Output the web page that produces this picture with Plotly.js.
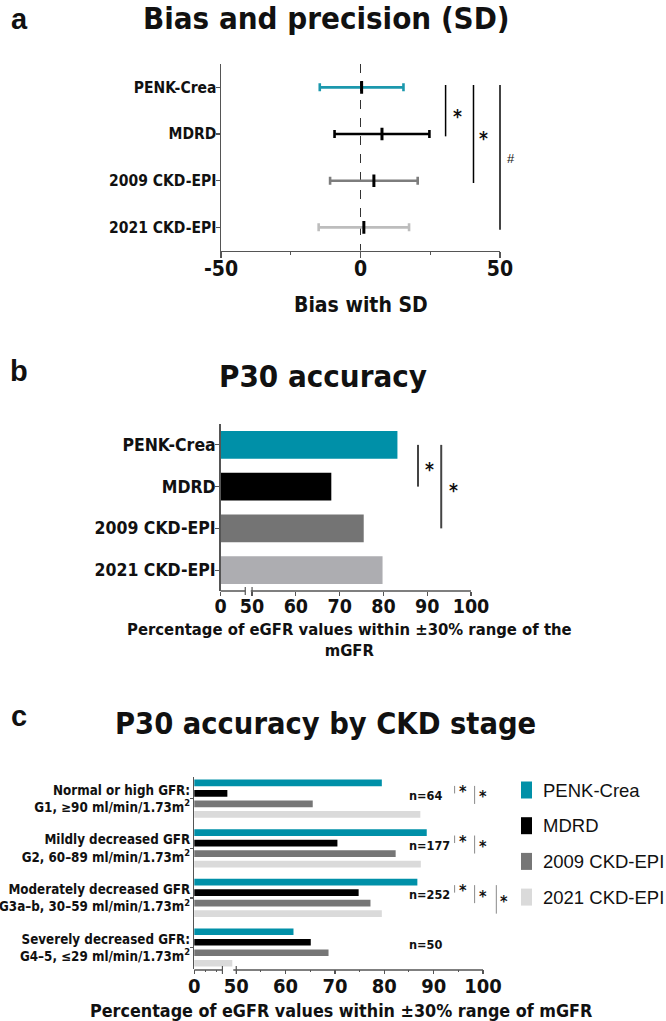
<!DOCTYPE html>
<html><head><meta charset="utf-8">
<script src="https://cdn.plot.ly/plotly-3.0.1.min.js"></script>
<style>html,body{margin:0;padding:0;background:#fff;} #chart{width:666px;height:1021px;}</style>
</head><body><div id="chart"></div>
<script>
// ---------- DATA ----------
const methods = ['PENK-Crea', 'MDRD', '2009 CKD-EPI', '2021 CKD-EPI'];
const biasMean = [0.4, 7.7, 4.8, 1.2];
const biasSD = [15.0, 17.0, 15.7, 16.2];
const biasTickVals = [-50, 0, 50];
const biasTickText = ['-50', '0', '50'];

const p30 = [83.2, 68.1, 75.5, 79.8];

const stages = [
  'Normal or high GFR:<br>G1, ≥90 ml/min/1.73m<sup>2</sup>',
  'Mildly decreased GFR<br>G2, 60–89 ml/min/1.73m<sup>2</sup>',
  'Moderately decreased GFR<br>G3a–b, 30–59 ml/min/1.73m<sup>2</sup>',
  'Severely decreased GFR:<br>G4–5, ≤29 ml/min/1.73m<sup>2</sup>'
];
const stageN = ['n=64', 'n=177', 'n=252', 'n=50'];
const p30PenkCrea = [79.5, 88.6, 86.7, 61.6];
const p30Mdrd = [48.2, 70.5, 74.8, 65.1];
const p30Ckd2009 = [65.5, 82.3, 77.2, 68.7];
const p30Ckd2021 = [87.3, 87.4, 79.5, 49.2];
const pctTickVals = [50, 60, 70, 80, 90, 100];
const pctTickText = ['50', '60', '70', '80', '90', '100'];

// ---------- STYLE ----------
const W = 666, H = 1021;
const FN = '"DejaVu Sans Condensed", "Liberation Sans Narrow", sans-serif';
const FA = '"Liberation Sans", Arial, sans-serif';
const INK = '#111111';
const AX = '#555555';
const colA = ['#1b98ad', '#000000', '#7d7d7d', '#bdbdbd'];
const colB = ['#0090a8', '#000000', '#747474', '#adadb1'];
const colC = ['#0090a8', '#000000', '#767676', '#dadada'];

const px2x = p => p / W;
const px2y = p => 1 - p / H;

// axis geometry (domains in paper units)
const axA = {dom: [px2x(221), px2x(500)], rng: [-50, 50]};
const ayA = {dom: [px2y(250.7), px2y(64)], rng: [3.5, -0.5]};
const zeroB = 42.84;   // where the "0" of the broken axis sits
const axB = {dom: [px2x(220.7), px2x(471)], rng: [zeroB, 100]};
const ayB = {dom: [px2y(591), px2y(424)], rng: [3.5, -0.5]};
const zeroC = 41.5;
const axC = {dom: [px2x(194.3), px2x(483)], rng: [zeroC, 100]};
const ayC = {dom: [px2y(968.7), px2y(776.7)], rng: [3.4275, -0.4435]};

function mx(a, v) { return a.dom[0] + (v - a.rng[0]) / (a.rng[1] - a.rng[0]) * (a.dom[1] - a.dom[0]); }
function my(a, v) { return a.dom[0] + (v - a.rng[0]) / (a.rng[1] - a.rng[0]) * (a.dom[1] - a.dom[0]); }

const traces = [];
// ----- panel a -----
methods.forEach((m, i) => {
  traces.push({
    type: 'scatter', mode: 'markers', xaxis: 'x', yaxis: 'y',
    x: [biasMean[i]], y: [i], name: m, showlegend: false,
    error_x: {type: 'data', array: [biasSD[i]], color: colA[i], thickness: 2.6, width: 4},
    marker: {symbol: 'line-ns', size: 9, color: '#000', line: {color: '#000', width: 3}},
    hoverinfo: 'skip'
  });
});
// ----- panel b -----
traces.push({
  type: 'bar', orientation: 'h', xaxis: 'x2', yaxis: 'y2',
  x: p30, y: methods.map((m, i) => i), width: 0.667,
  marker: {color: colB, line: {width: 0}}, showlegend: false, hoverinfo: 'skip'
});
// ----- panel c -----
const seriesC = [p30PenkCrea, p30Mdrd, p30Ckd2009, p30Ckd2021];
seriesC.forEach((vals, k) => {
  traces.push({
    type: 'bar', orientation: 'h', xaxis: 'x3', yaxis: 'y3',
    x: vals, y: stages.map((s, i) => i), name: methods[k],
    marker: {color: colC[k], line: {width: 0}}, showlegend: false, hoverinfo: 'skip'
  });
});

const shapes = [];
const ann = [];
function lineP(x0, y0, x1, y1, color, width, dash) {
  shapes.push({type: 'line', xref: 'paper', yref: 'paper', x0, y0, x1, y1,
    line: {color, width, dash: dash || 'solid'}});
}
function txt(x, y, text, size, opts) {
  ann.push(Object.assign({xref: 'paper', yref: 'paper', x, y, text, showarrow: false,
    xanchor: 'center', yanchor: 'middle',
    font: {family: FN, size, color: INK, weight: 'bold'}}, opts || {}));
}

// panel a: dashed zero line
shapes.push({type: 'line', xref: 'x', yref: 'y', x0: 0, x1: 0, y0: -0.5, y1: 3.5, layer: 'below',
  line: {color: '#333', width: 1, dash: 'dash'}});
// panel a: significance brackets
const sigA = [[1, 30.5, '*', 34.8, '#000', 1.5], [2, 40.5, '*', 44.2, '#000', 1.5], [3, 50, '#', 54, '#444', 2]];
sigA.forEach(([to, xv, lab, xl, c, w]) => {
  const y0 = my(ayA, -0.05), y1 = my(ayA, to + 0.05);
  lineP(mx(axA, xv), y0, mx(axA, xv), y1, c, w);
  const ym = to === 1 ? px2y(116) : (to === 2 ? px2y(138) : px2y(158));
  if (lab === '#') txt(mx(axA, xl), ym, '#', 13, {font: {family: FA, size: 13, color: INK}});
  else txt(mx(axA, xl), ym, '*', 19);
});

// panel b: broken x axis line
const byb = px2y(591);
lineP(mx(axB, zeroB), byb, mx(axB, 48.45), byb, AX, 1.5);
lineP(mx(axB, 49.7), byb, mx(axB, 100), byb, AX, 1.5);
[48.45, 50].forEach(v => lineP(mx(axB, v), byb + 4 / H, mx(axB, v), byb - 4 / H, AX, 1.2));
// panel b significance
const sigB = [[1, 87.9, 90.5], [2, 93.2, 96.0]];
sigB.forEach(([to, xv, xs]) => {
  lineP(mx(axB, xv), my(ayB, 0), mx(axB, xv), my(ayB, to), '#444', 2);
  txt(mx(axB, xs), (my(ayB, 0) + my(ayB, to)) / 2 - 3 / H, '*', 19);
});

// panel c: broken x axis line
const byc = px2y(970);
lineP(mx(axC, zeroC), byc, mx(axC, 47.2), byc, AX, 1.5);
lineP(mx(axC, 49.4), byc, mx(axC, 100), byc, AX, 1.5);
[47.2, 50].forEach(v => lineP(mx(axC, v), byc + 4 / H, mx(axC, v), byc - 4 / H, AX, 1.2));

// panel c: n labels
const slot = (1 - 0.153) / 4;
stageN.forEach((t, g) => {
  ann.push({xref: 'x3', yref: 'y3', x: 84.6, y: g, text: t, showarrow: false,
    xanchor: 'left', yanchor: 'middle', yshift: 3,
    font: {family: FN, size: 12.6, color: INK, weight: 'bold'}});
});
// panel c significance (group, target series, column)
const sigC = [[0, 1, 0], [0, 2, 1], [1, 1, 0], [1, 2, 1], [2, 1, 0], [2, 2, 1], [2, 3, 2]];
const colX = [94.25, 98.3, 102.7];
sigC.forEach(([g, to, col]) => {
  const yTop = g + (0 - 1.5) * slot + 0.06;
  const yBot = g + (to - 1.5) * slot;
  const x = mx(axC, colX[col]);
  lineP(x, my(ayC, yTop), x, my(ayC, yBot), '#8a8a8a', 1);
  txt(x + 8 / W, (my(ayC, yTop) + my(ayC, yBot)) / 2 - 2 / H, '*', 16);
});

// panel c legend
methods.forEach((m, k) => {
  const yc = 790 + k * 35.7;
  shapes.push({type: 'rect', xref: 'paper', yref: 'paper', x0: px2x(521), x1: px2x(532),
    y0: px2y(yc + 8.5), y1: px2y(yc - 8.5), fillcolor: colC[k], line: {width: 0}});
  ann.push({xref: 'paper', yref: 'paper', x: px2x(541), y: px2y(yc), text: m, showarrow: false,
    xanchor: 'left', yanchor: 'middle', font: {family: FA, size: 18.5, color: INK}});
});

// titles & axis titles
const FL = {family: FA, size: 29, color: INK, weight: 'bold'};
txt(px2x(19), px2y(19), 'a', 29, {font: FL});
txt(px2x(326), px2y(18), 'Bias and precision (SD)', 31);
txt(px2x(360.5), px2y(305), 'Bias with SD', 21);
txt(px2x(19), px2y(371), 'b', 29, {font: FL});
txt(px2x(323), px2y(376), 'P30 accuracy', 31);
txt(px2x(349), px2y(640), 'Percentage of eGFR values within ±30% range of the<br>mGFR', 16.5);
txt(px2x(19), px2y(716), 'c', 29, {font: FL});
txt(px2x(325), px2y(723), 'P30 accuracy by CKD stage', 30.5);
txt(px2x(341), px2y(1010), 'Percentage of eGFR values within ±30% range of mGFR', 17.8);

const tf = s => ({family: FN, size: s, color: INK, weight: 'bold'});
const layout = {
  width: W, height: H, margin: {l: 0, r: 0, t: 0, b: 0},
  paper_bgcolor: '#fff', plot_bgcolor: 'rgba(0,0,0,0)',
  showlegend: false, barmode: 'group', bargap: 0.153, bargroupgap: 0.362,
  xaxis: {domain: axA.dom, range: axA.rng, anchor: 'y', tickvals: biasTickVals, ticktext: biasTickText,
    ticks: 'outside', ticklen: 6, tickwidth: 1.5, tickcolor: AX, showline: true, linecolor: AX, linewidth: 1.5,
    showgrid: false, zeroline: false, tickfont: tf(21), ticklabelstandoff: -7, fixedrange: true,
    minor: {tickvals: [-25, 25], ticks: 'outside', ticklen: 3, tickcolor: AX, tickwidth: 1, showgrid: false}},
  yaxis: {domain: ayA.dom, range: ayA.rng, anchor: 'x', tickvals: [0, 1, 2, 3], ticktext: methods,
    ticks: 'outside', ticklen: 4, tickwidth: 1.2, tickcolor: AX, showline: true, linecolor: AX, linewidth: 1.5,
    showgrid: false, zeroline: false, tickfont: tf(15.5), ticklabelstandoff: -4, fixedrange: true},
  xaxis2: {domain: axB.dom, range: axB.rng, anchor: 'y2', tickvals: [zeroB].concat(pctTickVals),
    ticktext: ['0'].concat(pctTickText), ticks: 'outside', ticklen: 4, tickwidth: 1.2, tickcolor: AX,
    showline: false, showgrid: false, zeroline: false, tickfont: tf(19.5), ticklabelstandoff: -6, fixedrange: true},
  yaxis2: {domain: ayB.dom, range: ayB.rng, anchor: 'x2', tickvals: [0, 1, 2, 3], ticktext: methods,
    ticks: 'outside', ticklen: 4, tickwidth: 1.2, tickcolor: AX, showline: true, linecolor: AX, linewidth: 1.5,
    showgrid: false, zeroline: false, tickfont: tf(17.5), ticklabelstandoff: -4, fixedrange: true},
  xaxis3: {domain: axC.dom, range: axC.rng, anchor: 'y3', tickvals: [zeroC].concat(pctTickVals),
    ticktext: ['0'].concat(pctTickText), ticks: 'outside', ticklen: 4, tickwidth: 1.2, tickcolor: AX,
    showline: false, showgrid: false, zeroline: false, tickfont: tf(20), ticklabelstandoff: -5, fixedrange: true,
    minor: {tickvals: [43.7, 45.9, 55, 65, 75, 85, 95], ticks: 'outside', ticklen: 2.5, tickcolor: AX, tickwidth: 1, showgrid: false}},
  yaxis3: {domain: ayC.dom, range: ayC.rng, anchor: 'x3', tickvals: [0, 1, 2, 3], ticktext: stages,
    ticks: 'outside', ticklen: 3, tickwidth: 1.2, tickcolor: AX, showline: true, linecolor: AX, linewidth: 1.5,
    showgrid: false, zeroline: false, tickfont: tf(13.3), ticklabelstandoff: -3, fixedrange: true},
  shapes, annotations: ann
};
Plotly.newPlot('chart', traces, layout, {displayModeBar: false, staticPlot: true});
</script></body></html>
